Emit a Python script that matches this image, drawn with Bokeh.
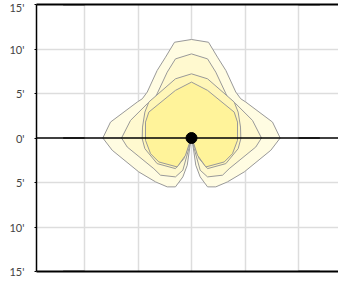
from bokeh.plotting import figure
from bokeh.models import FixedTicker, Span, LinearAxis, ColumnDataSource
from bokeh.embed import file_html
from bokeh.resources import INLINE

# Half contours (left side, feet), from top (x=0) around to near the origin
outer_x = [0, -1.59, -2.43, -3.21, -4.14, -4.6, -5.07, -7.57, -8.29, -7.41, -4.93, -3.36, -2.27, -1.5, -0.81, -0.4, -0.09]
outer_y = [11.07, 10.76, 9.08, 7.59, 5.16, 4.41, 4.04, 1.79, 0, -1.38, -3.81, -4.93, -5.49, -5.49, -4.37, -3.06, -0.45]
second_x = [0, -1.5, -2.27, -3.36, -4.14, -5.7, -6.54, -6.01, -3.52, -2.9, -1.5, -0.81, -0.25]
second_y = [9.45, 8.89, 7.4, 4.6, 3.85, 1.98, 0, -1.01, -3.45, -4.18, -4.37, -3.62, -1.2]
third_x = [0, -1.5, -3.99, -4.36, -4.58, -4.61, -4.36, -3.21, -1.5, -0.72, -0.25]
third_y = [7.21, 6.65, 4.04, 2.91, 1.23, -0.08, -1.2, -2.88, -3.44, -2.32, -0.82]
inner_x = [0, -1.5, -3.99, -4.3, -4.3, -3.83, -3.06, -1.34, -0.56, -0.16]
inner_y = [6.28, 5.35, 2.91, 1.79, -0.26, -1.76, -2.69, -3.25, -1.94, -0.45]
fills = ["#fffce2", "#fff9cf", "#fff6b8", "#fff39a"]

y_ticks = [-15, -10, -5, 0, 5, 10, 15]
y_labels = ["15'", "10'", "5'", "0'", "5'", "10'", "15'"]
x_grid = [-10, -5, 0, 5, 10]
mark_y = [15, 0, -15]


def full(hx, hy):
    xs = list(hx) + [0] + [-v for v in reversed(hx[1:])]
    ys = list(hy) + [0] + list(reversed(hy[1:]))
    return xs, ys


p = figure(frame_width=302, frame_height=267, x_range=(-14.49, 13.74), y_range=(-15, 15),
           output_backend="svg", toolbar_location=None,
           min_border_left=36, min_border_right=0, min_border_top=4, min_border_bottom=11,
           outline_line_color=None, background_fill_color="white", border_fill_color="white")

p.xgrid.ticker = FixedTicker(ticks=x_grid)
p.ygrid.ticker = FixedTicker(ticks=[-10, -5, 5, 10])
p.grid.grid_line_color = "#dddddd"
p.grid.grid_line_width = 1.5

ax = p.yaxis[0]
ax.ticker = FixedTicker(ticks=y_ticks)
ax.major_label_overrides = {t: l for t, l in zip(y_ticks, y_labels)}
ax.major_label_text_font = "Lato"
ax.major_label_text_font_size = "11px"
ax.major_label_text_color = "#444444"
ax.major_label_standoff = 10
ax.major_tick_in = 0
ax.major_tick_out = 2
ax.major_tick_line_color = "black"
ax.minor_tick_line_color = None
ax.axis_line_color = "black"
ax.axis_line_width = 1.5

p.xaxis.visible = False
for loc in ["above", "below"]:
    a = LinearAxis(ticker=FixedTicker(ticks=[]), major_label_text_font_size="0px",
                   major_tick_line_color=None, minor_tick_line_color=None,
                   axis_line_color="black", axis_line_width=2)
    p.add_layout(a, loc)

p.add_layout(Span(location=0, dimension="width", line_color="black", line_width=1.5))

for (hx, hy), c in zip([(outer_x, outer_y), (second_x, second_y), (third_x, third_y), (inner_x, inner_y)], fills):
    xs, ys = full(hx, hy)
    p.patch(xs, ys, fill_color=c, line_color="#999999", line_width=1)

seg = ColumnDataSource(dict(x0=[-12] * 3 + [10] * 3, x1=[-10] * 3 + [12] * 3, y=mark_y * 2))
p.segment(x0="x0", y0="y", x1="x1", y1="y", source=seg, line_color="#666666", line_width=2)

p.scatter([0], [0], size=11, color="black")

open("out.html", "w").write(file_html(p, INLINE))
